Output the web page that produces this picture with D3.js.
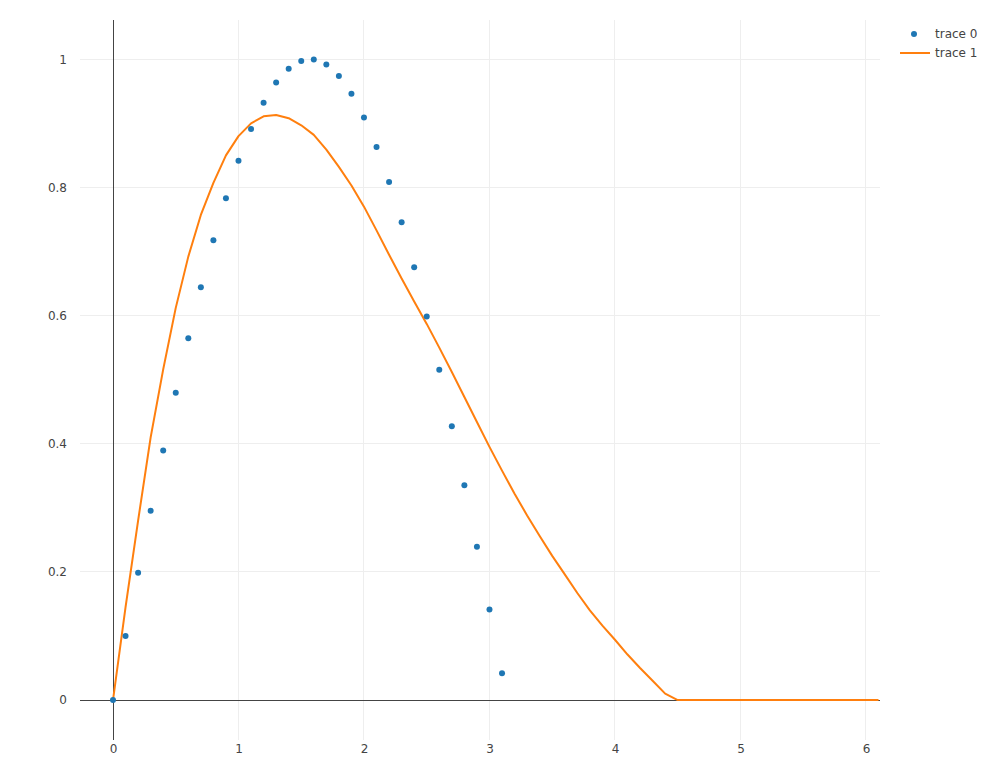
<!DOCTYPE html>
<html>
<head>
<meta charset="utf-8">
<script src="https://cdn.jsdelivr.net/npm/d3@7"></script>
<style>
  html, body { margin: 0; padding: 0; background: #fff; }
  svg { display: block; }
  text { font-family: "DejaVu Sans", verdana, arial, sans-serif; }
</style>
</head>
<body>
<svg id="chart" width="1008" height="778"></svg>
<script>
// ---- data ----
const trace0X = [0,0.1,0.2,0.3,0.4,0.5,0.6,0.7,0.8,0.9,1.0,1.1,1.2,1.3,1.4,1.5,1.6,1.7,1.8,1.9,2.0,2.1,2.2,2.3,2.4,2.5,2.6,2.7,2.8,2.9,3.0,3.1];
const trace0Y = [0,0.0998,0.1987,0.2955,0.3894,0.4794,0.5646,0.6442,0.7174,0.7833,0.8415,0.8912,0.9320,0.9636,0.9854,0.9975,0.9996,0.9917,0.9738,0.9463,0.9093,0.8632,0.8085,0.7457,0.6755,0.5985,0.5155,0.4274,0.3350,0.2392,0.1411,0.0416];

const trace1X = [0,0.1,0.2,0.3,0.4,0.5,0.6,0.7,0.8,0.9,1.0,1.1,1.2,1.3,1.4,1.5,1.6,1.7,1.8,1.9,2.0,2.1,2.2,2.3,2.4,2.5,2.6,2.7,2.8,2.9,3.0,3.1,3.2,3.3,3.4,3.5,3.6,3.7,3.8,3.9,4.0,4.1,4.2,4.3,4.4,4.5,4.6,4.7,4.8,4.9,5.0,5.1,5.2,5.3,5.4,5.5,5.6,5.7,5.8,5.9,6.0,6.1];
const trace1Y = [0,0.145,0.28,0.41,0.516,0.612,0.692,0.757,0.807,0.850,0.880,0.900,0.911,0.913,0.908,0.897,0.882,0.859,0.832,0.803,0.770,0.733,0.695,0.658,0.622,0.587,0.550,0.512,0.473,0.434,0.395,0.358,0.322,0.288,0.256,0.225,0.196,0.167,0.140,0.116,0.094,0.071,0.050,0.030,0.010,0,0,0,0,0,0,0,0,0,0,0,0,0,0,0,0,0];

const xTicks = [0,1,2,3,4,5,6];
const yTicks = [0,0.2,0.4,0.6,0.8,1];
const legendLabels = ["trace 0", "trace 1"];
const colors = ["#1f77b4", "#ff7f0e"];

// ---- layout ----
const plot = {left: 80, top: 20, width: 800, height: 720};
const svg = d3.select("#chart");

const x = d3.scaleLinear().domain([-0.263, 6.112]).range([plot.left, plot.left + plot.width]);
const y = d3.scaleLinear().domain([-0.0624, 1.0613]).range([plot.top + plot.height, plot.top]);

// gridlines
const grid = svg.append("g").attr("shape-rendering", "crispEdges");
grid.selectAll("line.vx").data(xTicks.filter(d => d !== 0)).enter().append("line")
  .attr("x1", d => x(d)).attr("x2", d => x(d))
  .attr("y1", plot.top).attr("y2", plot.top + plot.height)
  .attr("stroke", "#eee").attr("stroke-width", 1);
grid.selectAll("line.hy").data(yTicks.filter(d => d !== 0)).enter().append("line")
  .attr("x1", plot.left).attr("x2", plot.left + plot.width)
  .attr("y1", d => y(d)).attr("y2", d => y(d))
  .attr("stroke", "#eee").attr("stroke-width", 1);

// zero lines
const zero = svg.append("g").attr("shape-rendering", "crispEdges");
zero.append("line")
  .attr("x1", plot.left).attr("x2", plot.left + plot.width)
  .attr("y1", Math.round(y(0)) + 0.5).attr("y2", Math.round(y(0)) + 0.5)
  .attr("stroke", "#444").attr("stroke-width", 1);
zero.append("line")
  .attr("x1", Math.round(x(0)) + 0.5).attr("x2", Math.round(x(0)) + 0.5)
  .attr("y1", plot.top).attr("y2", plot.top + plot.height)
  .attr("stroke", "#444").attr("stroke-width", 1);

// axes (labels only, via d3 axes)
const xAxis = d3.axisBottom(x).tickValues(xTicks).tickSize(0).tickPadding(4).tickFormat(d3.format("d"));
const gx = svg.append("g").attr("transform", `translate(0,${plot.top + plot.height})`).call(xAxis);
gx.select(".domain").remove();
gx.selectAll("text").attr("fill", "#444").style("font-size", "12px").style("font-family", "'DejaVu Sans', verdana, sans-serif");

const yAxis = d3.axisLeft(y).tickValues(yTicks).tickSize(0).tickPadding(13).tickFormat(d => d3.format("~g")(d));
const gy = svg.append("g").attr("transform", `translate(${plot.left},0)`).call(yAxis);
gy.select(".domain").remove();
gy.selectAll("text").attr("fill", "#444").style("font-size", "12px").style("font-family", "'DejaVu Sans', verdana, sans-serif");

// clip
svg.append("clipPath").attr("id", "clip").append("rect")
  .attr("x", plot.left).attr("y", plot.top).attr("width", plot.width).attr("height", plot.height);

const g = svg.append("g").attr("clip-path", "url(#clip)");

// trace 1 line
const line = d3.line().x(d => x(d[0])).y(d => y(d[1]));
g.append("path")
  .datum(trace1X.map((v, i) => [v, trace1Y[i]]))
  .attr("d", line)
  .attr("fill", "none")
  .attr("stroke", colors[1])
  .attr("stroke-width", 2)
  .attr("stroke-linejoin", "round");

// trace 0 markers
g.selectAll("circle.pt").data(trace0X.map((v, i) => [v, trace0Y[i]])).enter().append("circle")
  .attr("cx", d => x(d[0])).attr("cy", d => y(d[1]))
  .attr("r", 3).attr("fill", colors[0]);

// legend
const legend = svg.append("g").attr("transform", "translate(900,34)");
legend.append("circle").attr("cx", 14).attr("cy", 0).attr("r", 3).attr("fill", colors[0]);
legend.append("line").attr("x1", 0).attr("x2", 30).attr("y1", 19).attr("y2", 19)
  .attr("stroke", colors[1]).attr("stroke-width", 2);
legend.selectAll("text").data(legendLabels).enter().append("text")
  .attr("x", 35).attr("y", (d, i) => i * 19)
  .attr("dy", "0.35em")
  .attr("fill", "#444").style("font-size", "12px")
  .text(d => d);
</script>
</body>
</html>
